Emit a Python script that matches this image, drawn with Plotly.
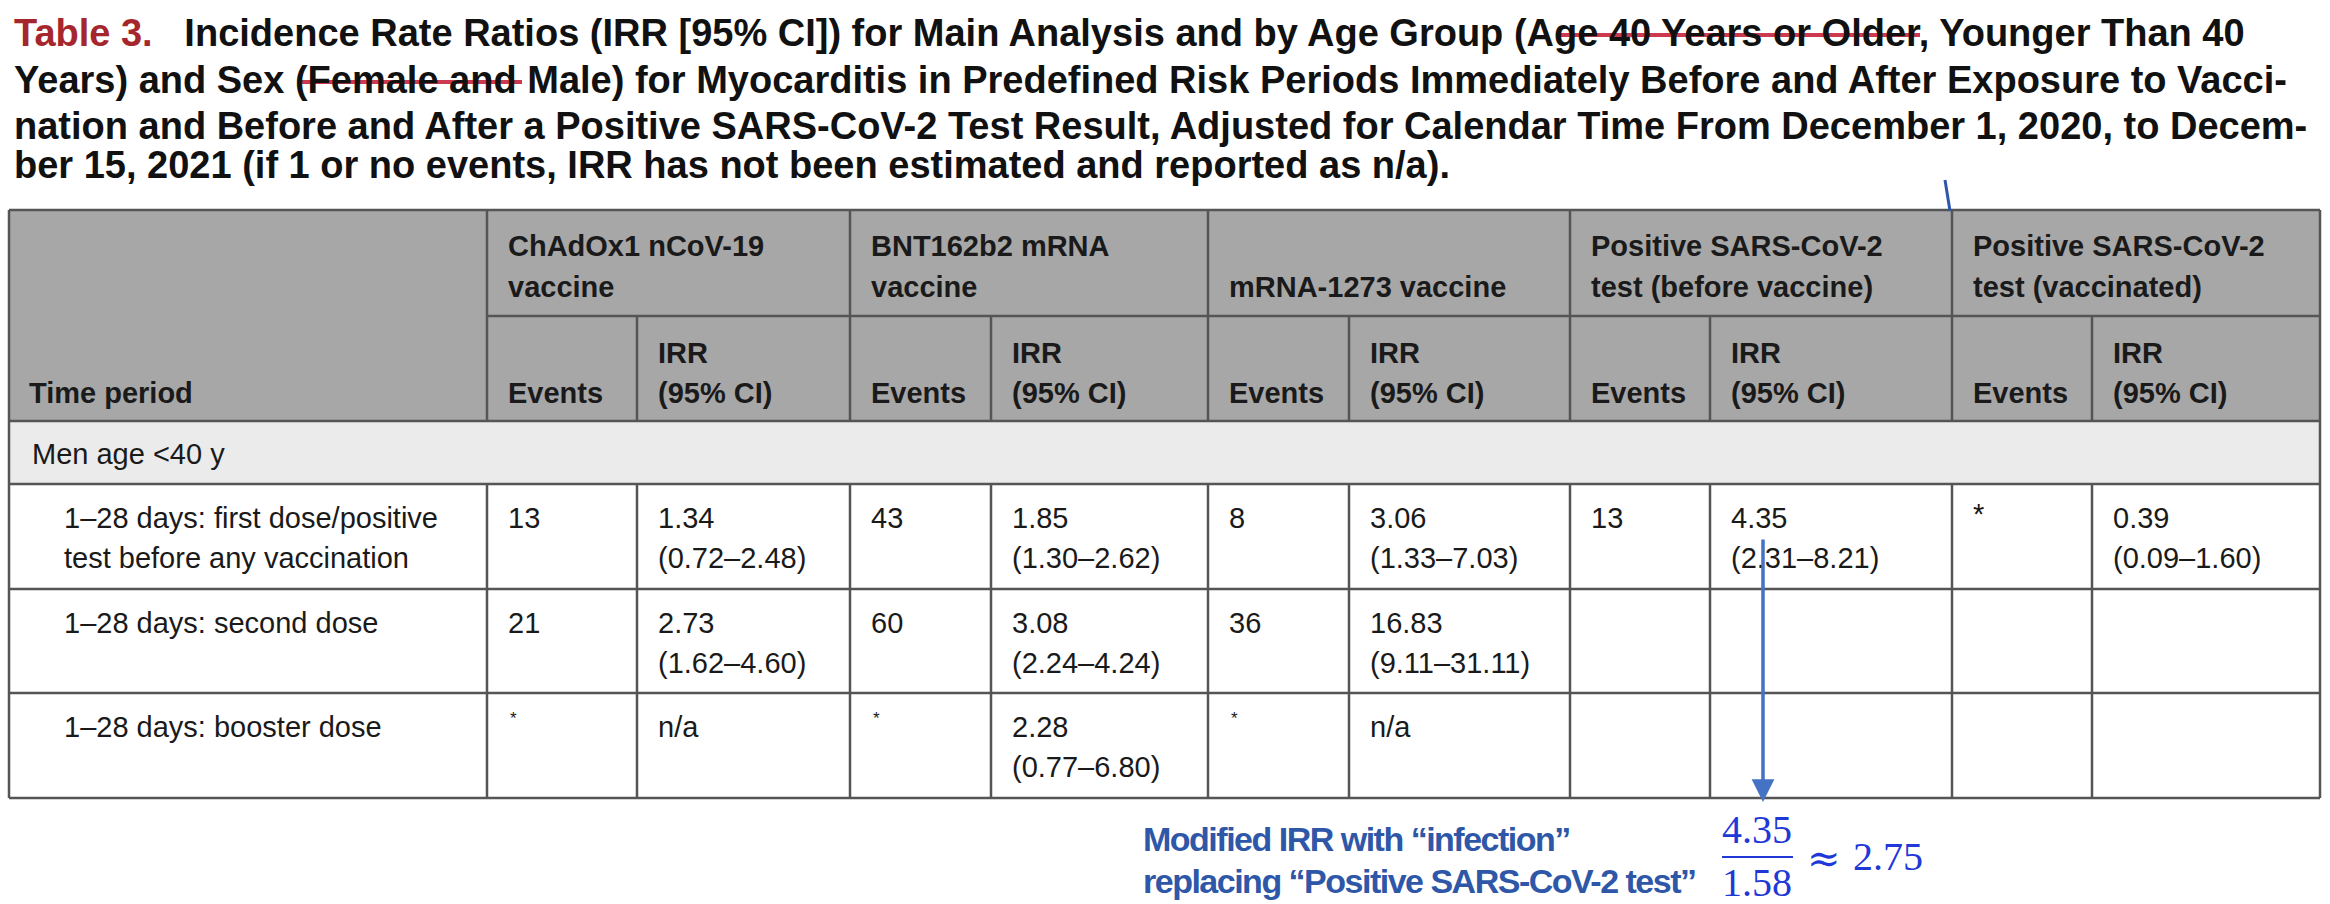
import plotly.graph_objects as go

# ---------------- data ----------------
title_label = "Table 3."
title_lines = [
    "Incidence Rate Ratios (IRR [95% CI]) for Main Analysis and by Age Group (Age 40 Years or Older, Younger Than 40",
    "Years) and Sex (Female and Male) for Myocarditis in Predefined Risk Periods Immediately Before and After Exposure to Vacci-",
    "nation and Before and After a Positive SARS-CoV-2 Test Result, Adjusted for Calendar Time From December 1, 2020, to Decem-",
    "ber 15, 2021 (if 1 or no events, IRR has not been estimated and reported as n/a).",
]
stub_header = "Time period"
group_headers = [
    ["ChAdOx1 nCoV-19", "vaccine"],
    ["BNT162b2 mRNA", "vaccine"],
    ["mRNA-1273 vaccine"],
    ["Positive SARS-CoV-2", "test (before vaccine)"],
    ["Positive SARS-CoV-2", "test (vaccinated)"],
]
sub_events = "Events"
sub_irr = ["IRR", "(95% CI)"]
band_label = "Men age &lt;40 y"
period_labels = [
    ["1–28 days: first dose/positive", "test before any vaccination"],
    ["1–28 days: second dose"],
    ["1–28 days: booster dose"],
]
events = [
    ["13", "43", "8", "13", "*"],
    ["21", "60", "36", "", ""],
    ["*", "*", "*", "", ""],
]
irr = [
    [1.34, 1.85, 3.06, 4.35, 0.39],
    [2.73, 3.08, 16.83, None, None],
    [None, 2.28, None, None, None],
]
ci_low = [
    [0.72, 1.30, 1.33, 2.31, 0.09],
    [1.62, 2.24, 9.11, None, None],
    [None, 0.77, None, None, None],
]
ci_high = [
    [2.48, 2.62, 7.03, 8.21, 1.60],
    [4.60, 4.24, 31.11, None, None],
    [None, 6.80, None, None, None],
]
note_lines = ["Modified IRR with “infection”", "replacing “Positive SARS-CoV-2 test”"]
ratio_num = 4.35
ratio_den = 1.58
ratio_val = 2.75

# ---------------- layout constants ----------------
W, H = 2330, 904
col_x = [9, 487, 637, 850, 991, 1208, 1349, 1570, 1710, 1952, 2092, 2320]
row_y = [210, 316, 421, 484, 589, 693, 798]
HEAD_BG = "#a7a7a7"
BAND_BG = "#ebebeb"
LINE_C = "#555555"
LW = 2.5
BODY_FONT = "Liberation Sans, Arial, Helvetica, sans-serif"
NOTE_FONT = "Liberation Sans, Arial, sans-serif"
SERIF_FONT = "Liberation Serif, DejaVu Serif, serif"
FS = 29
LH = 40
TITLE_FS = 38
TITLE_Y = [33, 80, 126, 165]
RED = "#a6262d"
STRIKE = "#cc3a50"
NOTE_BLUE = "#2f57a8"
MATH_BLUE = "#2138d8"
ARROW_BLUE = "#4472c4"

fig = go.Figure()
# invisible anchor trace
fig.add_trace(go.Scatter(x=[0, W], y=[0, H], mode="markers",
                         marker=dict(opacity=0), hoverinfo="skip", showlegend=False))

shapes = []
annotations = []


def rect(x0, y0, x1, y1, color):
    shapes.append(dict(type="rect", xref="x", yref="y", x0=x0, y0=y0, x1=x1, y1=y1,
                       fillcolor=color, line=dict(width=0), layer="below"))


def line(x0, y0, x1, y1, color=LINE_C, width=LW):
    shapes.append(dict(type="line", xref="x", yref="y", x0=x0, y0=y0, x1=x1, y1=y1,
                       line=dict(color=color, width=width), layer="above"))


def text(x, y, s, size=FS, color="#1a1a1a", family=BODY_FONT, bold=False,
         xanchor="left", yanchor="middle"):
    if bold:
        s = "<b>" + s + "</b>"
    annotations.append(dict(x=x, y=y, xref="x", yref="y", text=s, showarrow=False,
                            xanchor=xanchor, yanchor=yanchor,
                            font=dict(family=family, size=size, color=color)))


# ---------- title ----------
for i, ln in enumerate(title_lines):
    if i == 0:
        s = "<span style='color:%s'>%s</span>&#160;&#160;&#160;%s" % (RED, title_label, ln)
    else:
        s = ln
    text(12, TITLE_Y[i], s, size=TITLE_FS, color="#111111", bold=True)

# strike-through marks in title
line(1558, TITLE_Y[0] + 2, 1920, TITLE_Y[0] + 2, color=STRIKE, width=4)
line(302, TITLE_Y[1] + 2, 522, TITLE_Y[1] + 2, color=STRIKE, width=4)

# ---------- table backgrounds ----------
left, right = col_x[0], col_x[-1]
rect(left, row_y[0], right, row_y[2], HEAD_BG)
rect(left, row_y[2], right, row_y[3], BAND_BG)

# ---------- grid lines ----------
for yy in [row_y[0], row_y[2], row_y[3], row_y[4], row_y[5], row_y[6]]:
    line(left, yy, right, yy)
line(col_x[1], row_y[1], right, row_y[1])
line(left, row_y[0], left, row_y[6])
line(right, row_y[0], right, row_y[6])
group_bounds = col_x[1:-1:2]   # 487, 850, 1208, 1570, 1952
sub_bounds = col_x[2:-1:2]     # 637, 991, 1349, 1710, 2092
for xx in group_bounds:
    line(xx, row_y[0], xx, row_y[2])
    line(xx, row_y[3], xx, row_y[6])
for xx in sub_bounds:
    line(xx, row_y[1], xx, row_y[2])
    line(xx, row_y[3], xx, row_y[6])

PAD = 19
# ---------- header text ----------
text(col_x[0] + 18, row_y[2] - 28, stub_header, bold=True)
for g, lab in enumerate(group_headers):
    gx = col_x[1 + 2 * g] + PAD
    n = len(lab)
    for k, part in enumerate(lab):
        yy = row_y[1] - 29 - (n - 1 - k) * 41
        text(gx, yy, part, bold=True)
    ex = col_x[1 + 2 * g] + PAD
    ix = col_x[2 + 2 * g] + PAD
    text(ex, row_y[2] - 28, sub_events, bold=True)
    text(ix, row_y[2] - 68, sub_irr[0], bold=True)
    text(ix, row_y[2] - 28, sub_irr[1], bold=True)

# ---------- band ----------
text(col_x[0] + 21, (row_y[2] + row_y[3]) / 2 + 1, band_label)

# ---------- body ----------
for r in range(3):
    top = row_y[3 + r]
    y1 = top + 34
    for k, part in enumerate(period_labels[r]):
        text(62, y1 + k * LH, part)
    for g in range(5):
        ex = col_x[1 + 2 * g] + PAD
        ix = col_x[2 + 2 * g] + PAD
        ev = events[r][g]
        if ev == "*":
            if r == 2:
                text(ex + 2, y1 - 9, "*", size=17)
            else:
                text(ex, y1 - 4, "*", size=FS)
        elif ev:
            text(ex, y1, ev)
        if irr[r][g] is not None:
            text(ix, y1, "%.2f" % irr[r][g])
            text(ix, y1 + LH, "(%.2f–%.2f)" % (ci_low[r][g], ci_high[r][g]))
        elif ev:
            text(ix, y1, "n/a")

# ---------- blue annotations ----------
for k, s in enumerate(note_lines):
    text(1141, 839 + 42 * k,
         "<span style='letter-spacing:-1.5px'>%s</span>" % s,
         size=34, color=NOTE_BLUE, family=NOTE_FONT, bold=True)

frac_cx = 1757
text(frac_cx, 829, "%.2f" % ratio_num, size=40, color=MATH_BLUE, family=SERIF_FONT, xanchor="center")
line(1722, 857, 1793, 857, color=MATH_BLUE, width=2)
text(frac_cx, 882, "%.2f" % ratio_den, size=40, color=MATH_BLUE, family=SERIF_FONT, xanchor="center")
text(1824, 858, "≈", size=40, color=MATH_BLUE, family="DejaVu Serif, Liberation Serif, serif",
     xanchor="center")
text(1851, 856, "%.2f" % ratio_val, size=40, color=MATH_BLUE, family=SERIF_FONT)

# arrow from IRR cell down to the formula
annotations.append(dict(x=1763, y=802, ax=1763, ay=538, xref="x", yref="y",
                        axref="x", ayref="y", text="", showarrow=True,
                        arrowhead=2, arrowsize=1.3, arrowwidth=3.5,
                        arrowcolor=ARROW_BLUE))
# small stray blue stroke above table
line(1945, 180, 1950, 211, color=NOTE_BLUE, width=3)

fig.update_layout(
    width=W, height=H,
    margin=dict(l=0, r=0, t=0, b=0),
    paper_bgcolor="white", plot_bgcolor="white",
    xaxis=dict(range=[0, W], visible=False, fixedrange=True),
    yaxis=dict(range=[H, 0], visible=False, fixedrange=True),
    shapes=shapes, annotations=annotations,
    showlegend=False,
)
fig.write_html("out.html", config={"displayModeBar": False},
               post_script="document.body.style.margin='0px';document.body.style.overflow='hidden';")
